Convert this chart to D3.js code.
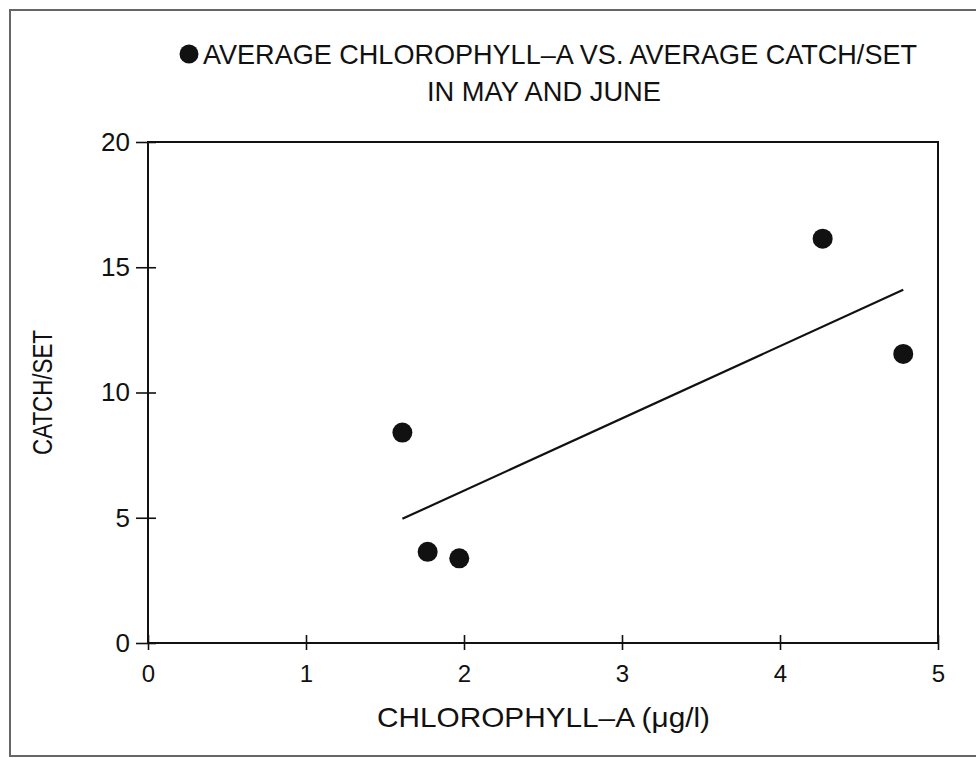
<!DOCTYPE html>
<html>
<head>
<meta charset="utf-8">
<script src="https://cdn.jsdelivr.net/npm/d3@7/dist/d3.min.js"></script>
<style>
  html, body { margin: 0; padding: 0; background: #fff; }
  svg { display: block; }
  .narrow { font-family: "Liberation Sans Narrow", "Liberation Sans", Arial, sans-serif; }
  .wide { font-family: "Liberation Sans", Arial, sans-serif; }
</style>
</head>
<body>
<svg id="chart" width="976" height="758"></svg>
<script>
// Average chlorophyll-a (µg/l) and average catch per set, May–June
const chlorophyll = [1.61, 1.77, 1.97, 4.27, 4.78];
const catchPerSet = [8.40, 3.64, 3.38, 16.14, 11.54];
const xTicks = [0, 1, 2, 3, 4, 5];
const yTicks = [0, 5, 10, 15, 20];
const titleLines = ["AVERAGE CHLOROPHYLL\u2013A VS. AVERAGE CATCH/SET", "IN MAY AND JUNE"];
const xTitle = "CHLOROPHYLL\u2013A (\u03bcg/l)";
const yTitle = "CATCH/SET";

const svg = d3.select("#chart");
const ink = "#111";

// outer frame
svg.append("rect")
  .attr("x", 10).attr("y", 10).attr("width", 980).attr("height", 746)
  .attr("fill", "none").attr("stroke", "#666").attr("stroke-width", 2);

const x = d3.scaleLinear().domain([0, 5]).range([148, 938]);
const y = d3.scaleLinear().domain([0, 20]).range([643, 142]);

// plot box
svg.append("rect")
  .attr("x", x(0)).attr("y", y(20))
  .attr("width", x(5) - x(0)).attr("height", y(0) - y(20))
  .attr("fill", "none").attr("stroke", ink).attr("stroke-width", 2);

// x axis: ticks crossing the baseline
const xAxis = d3.axisBottom(x).tickValues(xTicks).tickSize(15).tickFormat(d3.format("d"));
const gx = svg.append("g").attr("transform", `translate(0,${y(0) - 8})`).call(xAxis);
gx.select(".domain").remove();
gx.selectAll(".tick line").attr("stroke", ink).attr("stroke-width", 1.6);
gx.selectAll(".tick text")
  .attr("class", "narrow")
  .attr("y", 47).attr("dy", null)
  .style("font-size", "24px").attr("fill", ink);

// y axis: ticks crossing the left edge
const yAxis = d3.axisLeft(y).tickValues(yTicks).tickSize(20).tickFormat(d3.format("d"));
const gy = svg.append("g").attr("transform", `translate(${x(0) + 8},0)`).call(yAxis);
gy.select(".domain").remove();
gy.selectAll(".tick line").attr("stroke", ink).attr("stroke-width", 1.6);
gy.selectAll(".tick text")
  .attr("class", "wide")
  .attr("x", -26)
  .style("font-size", "26px").attr("fill", ink);

// least-squares trend line over the observed chlorophyll range
const n = chlorophyll.length;
const mx = d3.mean(chlorophyll), my = d3.mean(catchPerSet);
let sxy = 0, sxx = 0;
for (let i = 0; i < n; i++) {
  sxy += (chlorophyll[i] - mx) * (catchPerSet[i] - my);
  sxx += (chlorophyll[i] - mx) ** 2;
}
const slope = sxy / sxx, intercept = my - slope * mx;
const [x0, x1] = d3.extent(chlorophyll);
svg.append("line")
  .attr("x1", x(x0)).attr("y1", y(intercept + slope * x0))
  .attr("x2", x(x1)).attr("y2", y(intercept + slope * x1))
  .attr("stroke", ink).attr("stroke-width", 2.2);

// data points
svg.append("g").selectAll("circle")
  .data(chlorophyll.map((c, i) => [c, catchPerSet[i]]))
  .join("circle")
  .attr("cx", d => x(d[0])).attr("cy", d => y(d[1]))
  .attr("r", 10).attr("fill", ink);

// title with bullet key
svg.append("circle").attr("cx", 189).attr("cy", 54).attr("r", 9.5).attr("fill", ink);
svg.append("text").attr("class", "narrow")
  .attr("x", 203).attr("y", 64)
  .style("font-size", "28px").attr("fill", ink)
  .attr("textLength", 714).attr("lengthAdjust", "spacingAndGlyphs")
  .text(titleLines[0]);
svg.append("text").attr("class", "narrow")
  .attr("x", 427).attr("y", 101)
  .style("font-size", "28px").attr("fill", ink)
  .attr("textLength", 234).attr("lengthAdjust", "spacingAndGlyphs")
  .text(titleLines[1]);

// axis titles
svg.append("text").attr("class", "narrow")
  .attr("x", 377).attr("y", 727)
  .style("font-size", "28px").attr("fill", ink)
  .attr("textLength", 333).attr("lengthAdjust", "spacingAndGlyphs")
  .text(xTitle);
svg.append("text").attr("class", "narrow")
  .attr("transform", "translate(52,455) rotate(-90)")
  .style("font-size", "28px").attr("fill", ink)
  .attr("textLength", 125).attr("lengthAdjust", "spacingAndGlyphs")
  .text(yTitle);
</script>
</body>
</html>
